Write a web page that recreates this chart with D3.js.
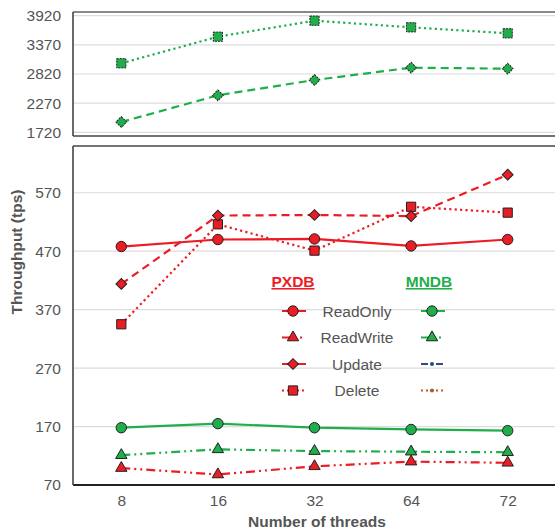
<!DOCTYPE html>
<html>
<head>
<meta charset="utf-8">
<script src="https://cdn.jsdelivr.net/npm/d3@7"></script>
<style>
  html, body { margin: 0; padding: 0; background: #fff; }
  svg { display: block; font-family: "Liberation Sans", Arial, Helvetica, sans-serif; }
</style>
</head>
<body>
<svg id="chart" width="555" height="531"></svg>
<script>
// ---------- data ----------
const threads = ["8", "16", "32", "64", "72"];
const topTicks = [1720, 2270, 2820, 3370, 3920];
const bottomTicks = [70, 170, 270, 370, 470, 570];

// top panel (MNDB)
const mndbUpdateTop = [1914, 2418, 2707, 2939, 2920];
const mndbDeleteTop = [3022, 3524, 3826, 3701, 3588];

// bottom panel
const pxdbReadOnly = [478, 490, 491, 479, 490];
const pxdbReadWrite = [99, 88, 102, 110, 108];
const pxdbUpdate = [414, 531, 532, 530, 601];
const pxdbDelete = [345, 516, 471, 546, 536];
const mndbReadOnly = [168, 175, 168, 165, 163];
const mndbReadWrite = [121, 131, 128, 127, 126];

const legendNames = ["ReadOnly", "ReadWrite", "Update", "Delete"];

// ---------- styling ----------
const RED = "#ec1c24";
const GREEN = "#1fae4b";
const BLUE = "#2b4c8c";
const BROWN = "#b0602c";
const TXT = "#555";
const GRID = "#dcdcdc";
const AXIS = "#444";

const dashes = {
  solid: null,
  dashdotdot: "9,4,2,4,2,4",
  dashed: "8,5",
  dotted: "2.2,3.2"
};

const svg = d3.select("#chart");

const x = d3.scalePoint().domain(threads).range([73, 556]).padding(0.5);
const yTop = d3.scaleLinear().domain([1650, 3990]).range([136, 12]);
const yBot = d3.scaleLinear().domain([70, 650]).range([485, 146]);

function symPath(type, size) {
  if (type === "circle") return d3.symbol().type(d3.symbolCircle).size(size || 85)();
  if (type === "square") return d3.symbol().type(d3.symbolSquare).size(size || 85)();
  if (type === "triangle") return d3.symbol().type(d3.symbolTriangle).size(size || 56)();
  if (type === "diamond") return d3.symbol().type(d3.symbolSquare).size(size || 58)();
  if (type === "dot") return d3.symbol().type(d3.symbolCircle).size(size || 14)();
}

function drawSeries(g, values, yScale, color, dashKey, marker, markerDash) {
  const line = d3.line().x((d, i) => x(threads[i])).y(d => yScale(d));
  g.append("path")
    .attr("d", line(values))
    .attr("fill", "none")
    .attr("stroke", color)
    .attr("stroke-width", 2.2)
    .attr("stroke-dasharray", dashes[dashKey]);
  g.selectAll(null).data(values).enter().append("path")
    .attr("d", symPath(marker))
    .attr("transform", (d, i) => `translate(${x(threads[i])},${yScale(d)})` + (marker === "diamond" ? " rotate(45)" : ""))
    .attr("fill", color)
    .attr("stroke", "#222")
    .attr("stroke-width", 1)
    .attr("stroke-dasharray", markerDash || null);
}

// ---------- top panel ----------
const gTop = svg.append("g");
gTop.selectAll(".grid").data(topTicks).enter().append("line")
  .attr("x1", 73).attr("x2", 555)
  .attr("y1", d => yTop(d)).attr("y2", d => yTop(d))
  .attr("stroke", GRID).attr("stroke-width", 1.2);

const axTop = gTop.append("g").attr("transform", "translate(73,0)")
  .call(d3.axisLeft(yTop).tickValues(topTicks).tickSize(0).tickPadding(12).tickFormat(d3.format("d")));
axTop.select(".domain").remove();
axTop.selectAll("text").attr("fill", TXT).style("font-size", "15.5px")
  .style("font-family", "'Liberation Sans', Arial, sans-serif");

gTop.append("line").attr("x1", 73).attr("x2", 555).attr("y1", 12).attr("y2", 12).attr("stroke", "#888").attr("stroke-width", 2);
gTop.append("line").attr("x1", 73).attr("x2", 555).attr("y1", 136).attr("y2", 136).attr("stroke", AXIS).attr("stroke-width", 1.6);
gTop.append("line").attr("x1", 73).attr("x2", 73).attr("y1", 12).attr("y2", 136).attr("stroke", AXIS).attr("stroke-width", 1.6);

drawSeries(gTop, mndbDeleteTop, yTop, GREEN, "dotted", "square", "2,1");
drawSeries(gTop, mndbUpdateTop, yTop, GREEN, "dashed", "diamond", "2,1");

// ---------- bottom panel ----------
const gBot = svg.append("g");
gBot.selectAll(".grid").data(bottomTicks.filter(d => d > 70)).enter().append("line")
  .attr("x1", 73).attr("x2", 555)
  .attr("y1", d => yBot(d)).attr("y2", d => yBot(d))
  .attr("stroke", GRID).attr("stroke-width", 1.2);

const axBot = gBot.append("g").attr("transform", "translate(73,0)")
  .call(d3.axisLeft(yBot).tickValues(bottomTicks).tickSize(0).tickPadding(12).tickFormat(d3.format("d")));
axBot.select(".domain").remove();
axBot.selectAll("text").attr("fill", TXT).style("font-size", "15.5px")
  .style("font-family", "'Liberation Sans', Arial, sans-serif");

const axX = gBot.append("g").attr("transform", "translate(0,485)")
  .call(d3.axisBottom(x).tickSize(0).tickPadding(10));
axX.select(".domain").remove();
axX.selectAll("text").attr("fill", TXT).style("font-size", "15.5px")
  .style("font-family", "'Liberation Sans', Arial, sans-serif");

gBot.append("line").attr("x1", 73).attr("x2", 555).attr("y1", 146).attr("y2", 146).attr("stroke", AXIS).attr("stroke-width", 1.6);
gBot.append("line").attr("x1", 73).attr("x2", 555).attr("y1", 485).attr("y2", 485).attr("stroke", "#222").attr("stroke-width", 1.8);
gBot.append("line").attr("x1", 73).attr("x2", 73).attr("y1", 146).attr("y2", 485).attr("stroke", AXIS).attr("stroke-width", 1.6);

drawSeries(gBot, mndbReadWrite, yBot, GREEN, "dashdotdot", "triangle");
drawSeries(gBot, pxdbReadWrite, yBot, RED, "dashdotdot", "triangle");
drawSeries(gBot, mndbReadOnly, yBot, GREEN, "solid", "circle");
drawSeries(gBot, pxdbReadOnly, yBot, RED, "solid", "circle");
drawSeries(gBot, pxdbDelete, yBot, RED, "dotted", "square");
drawSeries(gBot, pxdbUpdate, yBot, RED, "dashed", "diamond");

// ---------- axis titles ----------
svg.append("text")
  .attr("transform", "translate(22,252) rotate(-90)")
  .attr("text-anchor", "middle")
  .attr("fill", TXT)
  .style("font-size", "15.5px").style("font-weight", "bold")
  .text("Throughput (tps)");

svg.append("text")
  .attr("x", 317).attr("y", 527)
  .attr("text-anchor", "middle")
  .attr("fill", TXT)
  .style("font-size", "15.5px").style("font-weight", "bold")
  .text("Number of threads");

// ---------- legend ----------
const leg = svg.append("g");
leg.append("text").attr("x", 293).attr("y", 287).attr("text-anchor", "middle")
  .attr("fill", RED).style("font-size", "15.5px").style("font-weight", "bold")
  .style("text-decoration", "underline").text("PXDB");
leg.append("text").attr("x", 429).attr("y", 287).attr("text-anchor", "middle")
  .attr("fill", GREEN).style("font-size", "15.5px").style("font-weight", "bold")
  .style("text-decoration", "underline").text("MNDB");

const legRowsY = [311, 337.5, 364, 390.5];
const pxStyles = [
  { c: RED, d: "solid", m: "circle" },
  { c: RED, d: "dashdotdot", m: "triangle" },
  { c: RED, d: "solid", m: "diamond" },
  { c: RED, d: "dotted", m: "square" }
];
const mnStyles = [
  { c: GREEN, d: "solid", m: "circle" },
  { c: GREEN, d: "dashdotdot", m: "triangle" },
  { c: BLUE, d: "legdashdot", m: "dot" },
  { c: BROWN, d: "dotted", m: "dot" }
];
const legDash = { solid: null, dashdotdot: "13,5,2,4", dashed: "8,5", dotted: "2,3", legdashdot: "7,3,2,3" };

function legendItem(cx, cy, st) {
  leg.append("line").attr("x1", cx - 11).attr("x2", cx + 13).attr("y1", cy).attr("y2", cy)
    .attr("stroke", st.c).attr("stroke-width", 2)
    .attr("stroke-dasharray", legDash[st.d]);
  leg.append("path").attr("d", symPath(st.m))
    .attr("transform", `translate(${cx},${cy})` + (st.m === "diamond" ? " rotate(45)" : ""))
    .attr("fill", st.c)
    .attr("stroke", st.m === "dot" ? "none" : "#222").attr("stroke-width", 1);
}

legendNames.forEach((name, i) => {
  const cy = legRowsY[i];
  legendItem(293, cy, pxStyles[i]);
  legendItem(432, cy, mnStyles[i]);
  leg.append("text").attr("x", 357).attr("y", cy + 5.5).attr("text-anchor", "middle")
    .attr("fill", TXT).style("font-size", "15.5px").text(name);
});
</script>
</body>
</html>
